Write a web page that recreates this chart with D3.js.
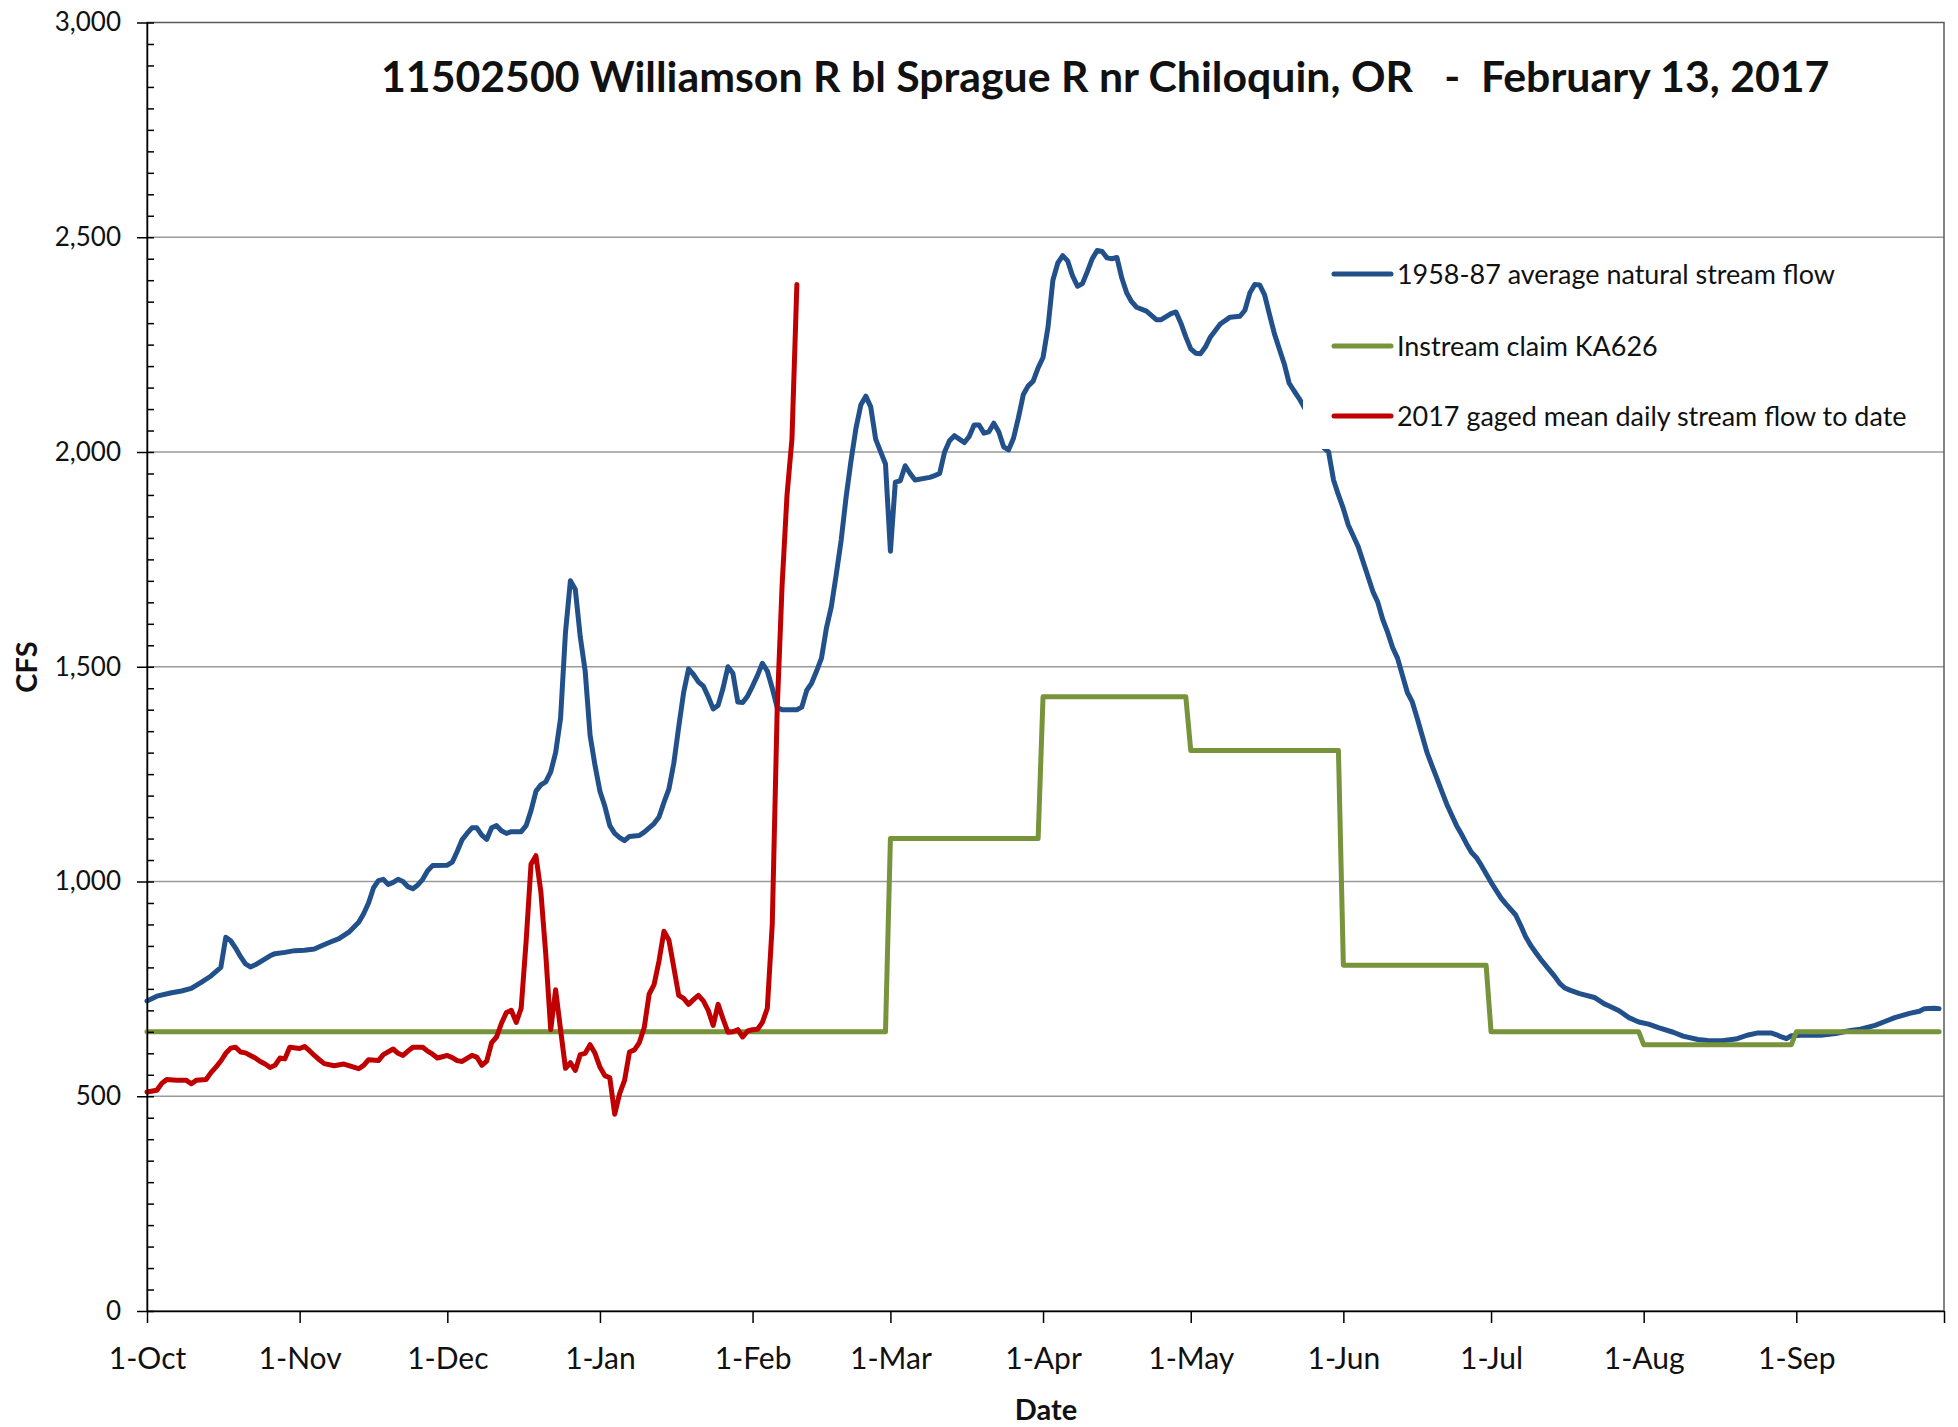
<!DOCTYPE html>
<html>
<head>
<meta charset="utf-8">
<script src="https://cdn.jsdelivr.net/npm/d3@7"></script>
<style>
  body { margin: 0; background: #fff; }
  text { font-family: Lato, "Open Sans", sans-serif; fill: #111; }
</style>
</head>
<body>
<svg id="canvas" width="1958" height="1427"></svg>
<script>
// ---- data ----
let titleText = "11502500 Williamson R bl Sprague R nr Chiloquin, OR   -  February 13, 2017"
let seriesNames = ["1958-87 average natural stream flow", "Instream claim KA626", "2017 gaged mean daily stream flow to date"]
let yTicks = [0, 500, 1000, 1500, 2000, 2500, 3000]

// day number counted from 1-Oct-2016
let avgDay = [0,2,5,7,9,11,13,15,16,17,18,19,20,21,22,23,24,25,26,28,30,32,34,35,37,39,41,43,44,45,46,47,48,49,50,51,52,53,54,55,56,57,58,61,62,63,64,65,66,67,68,69,70,71,72,73,74,76,77,78,79,80,81,82,83,84,85,86,87,88,89,90,91,92,93,94,95,96,97,98,100,101,102,103,104,105,106,107,108,109,110,111,112,113,114,115,116,117,118,119,120,121,122,123,124,125,126,127,128,129,132,133,134,135,136,137,138,139,140,141,142,143,144,145,146,147,148,149,150,151,152,153,154,155,156,159,160,161,162,163,164,165,166,167,168,169,170,171,172,173,174,175,176,177,178,179,180,181,182,183,184,185,186,187,188,189,190,191,192,193,194,195,196,197,198,199,200,201,203,205,206,207,208,209,210,211,212,213,214,215,216,218,220,222,223,224,225,226,227,228,229,230,231,232,233,234,236,238,239,240,241,242,243,244,245,246,247,248,249,250,251,252,253,254,255,256,257,258,259,260,261,262,263,264,265,266,267,268,269,270,271,272,273,274,275,276,277,278,279,280,281,282,283,284,285,286,287,288,289,291,294,296,297,299,301,303,305,307,310,312,315,317,320,323,325,327,330,331,332,333,334,336,340,343,346,348,351,353,355,358,360,361,363,364]
let avgCfs = [722,733,741,745,751,765,780,800,870,862,845,825,808,801,806,813,820,827,832,835,839,840,843,848,858,867,882,905,925,950,985,1002,1005,993,998,1005,1000,988,983,992,1005,1025,1037,1038,1045,1070,1097,1112,1125,1125,1108,1098,1125,1130,1118,1112,1116,1116,1130,1165,1210,1225,1232,1255,1300,1380,1580,1700,1680,1570,1490,1340,1270,1210,1175,1130,1112,1102,1095,1105,1107,1115,1125,1135,1150,1184,1215,1275,1360,1440,1495,1482,1465,1455,1430,1402,1410,1450,1500,1485,1418,1417,1432,1455,1480,1508,1490,1450,1405,1400,1400,1406,1445,1462,1490,1520,1590,1640,1715,1795,1895,1980,2055,2110,2130,2105,2030,2001,1972,1769,1930,1933,1968,1950,1935,1941,1945,1950,2000,2026,2038,2030,2022,2036,2063,2063,2044,2047,2067,2047,2012,2005,2032,2080,2134,2154,2165,2196,2220,2290,2400,2440,2457,2445,2410,2386,2392,2420,2450,2469,2467,2452,2450,2453,2405,2370,2350,2337,2328,2308,2308,2315,2322,2326,2300,2268,2240,2230,2229,2245,2268,2298,2314,2316,2330,2370,2390,2389,2366,2320,2275,2240,2205,2160,2142,2125,2085,2035,2010,2000,1935,1900,1868,1830,1805,1780,1745,1710,1675,1650,1610,1580,1545,1520,1480,1440,1418,1380,1340,1300,1270,1240,1210,1180,1155,1130,1110,1088,1068,1056,1038,1018,998,980,962,948,935,922,898,872,852,836,820,806,792,778,762,752,747,739,730,715,710,699,683,673,668,660,649,640,632,630,629,634,642,647,647,643,638,634,641,642,642,646,653,656,665,674,683,693,698,704,705,704]

let gagedDay = [0,2,3,4,6,8,9,10,12,13,14,15,16,17,18,19,20,21,22,23,24,25,26,27,28,29,31,32,33,34,35,36,38,40,42,43,44,45,47,48,50,51,52,53,54,56,57,58,59,60,61,62,63,64,65,66,67,68,69,70,71,72,73,74,75,76,77,78,79,80,81,82,83,84,85,86,87,88,89,90,91,92,93,94,95,96,97,98,99,100,101,102,103,104,105,106,107,108,109,110,111,112,113,114,115,116,117,118,119,120,121,122,123,124,125,126,127,128,129,130,131,132]
let gagedCfs = [510,514,530,539,537,537,529,537,539,555,568,582,600,612,614,603,601,595,589,581,575,567,572,589,587,614,611,616,606,595,585,576,571,575,568,564,572,585,583,597,610,600,595,605,614,614,605,598,589,592,595,590,583,581,588,595,591,572,582,625,638,670,695,700,672,705,860,1040,1060,976,830,655,748,655,565,578,560,597,600,620,600,568,548,543,458,506,537,603,608,625,660,738,760,815,884,864,800,735,728,714,725,735,722,700,665,714,680,649,650,655,638,652,655,656,672,705,900,1400,1690,1900,2030,2390]

let claimMonths = ["2016-10","2016-11","2016-12","2017-01","2017-02","2017-03","2017-04","2017-05","2017-06","2017-07","2017-08","2017-09"]
let claimCfs = [650,650,650,650,650,1100,1430,1305,805,650,620,650]

// ---- layout ----
let canvas = d3.select("#canvas")
let plotLeft = 147, plotRight = 1944, plotTop = 22.5, plotBottom = 1311
let startDate = new Date(2016, 9, 1)
let endDate = new Date(2017, 9, 1)

let x = d3.scaleTime().domain([startDate, endDate]).range([plotLeft, plotRight])
let y = d3.scaleLinear().domain([0, 3000]).range([plotBottom, plotTop])

let dayToDate = (d) => d3.timeDay.offset(startDate, d)

let avgData = avgDay.map((d, i) => [dayToDate(d), avgCfs[i]])
let gagedData = gagedDay.map((d, i) => [dayToDate(d), gagedCfs[i]])
let claimData = []
claimMonths.forEach((m, i) => {
    let first = d3.timeParse("%Y-%m")(m)
    let last = d3.timeDay.offset(d3.timeMonth.offset(first, 1), -1)
    claimData.push([first, claimCfs[i]])
    claimData.push([last, claimCfs[i]])
})

let colors = ["#22508A", "#77933C", "#C00000"]

// gridlines
canvas.append("g")
    .selectAll("line")
    .data(yTicks.filter((d) => d > 0 && d < 3000))
    .enter()
    .append("line")
    .attr("x1", plotLeft)
    .attr("x2", plotRight)
    .attr("y1", (d) => y(d))
    .attr("y2", (d) => y(d))
    .attr("stroke", "#9a9a9a")
    .attr("stroke-width", 1.5)

// plot border (top, right)
canvas.append("rect")
    .attr("x", plotLeft)
    .attr("y", plotTop)
    .attr("width", plotRight - plotLeft)
    .attr("height", plotBottom - plotTop)
    .attr("fill", "none")
    .attr("stroke", "#5a5a5a")
    .attr("stroke-width", 1.5)

// series
let line = d3.line().x((d) => x(d[0])).y((d) => y(d[1]))
let seriesData = [avgData, claimData, gagedData]
canvas.append("g")
    .selectAll("path")
    .data(seriesData)
    .enter()
    .append("path")
    .attr("d", line)
    .attr("fill", "none")
    .attr("stroke", (d, i) => colors[i])
    .attr("stroke-width", 5)
    .attr("stroke-linejoin", "round")
    .attr("stroke-linecap", "round")

// y axis
let yAxis = d3.axisLeft(y)
    .tickValues(yTicks)
    .tickSize(10)
    .tickPadding(16)
    .tickSizeOuter(0)
    .tickFormat(d3.format(","))
let yg = canvas.append("g")
    .attr("transform", `translate(${plotLeft},0)`)
    .call(yAxis)
yg.selectAll("text").attr("font-size", 26).attr("font-family", "Lato").attr("fill", "#1a1a1a")

let yMinor = d3.axisRight(y)
    .tickValues(d3.range(0, 3001, 50))
    .tickSize(7)
    .tickSizeOuter(0)
    .tickFormat("")
canvas.append("g")
    .attr("transform", `translate(${plotLeft},0)`)
    .call(yMinor)
    .select(".domain").remove()

// x axis
let months = d3.timeMonth.range(startDate, d3.timeDay.offset(endDate, 1))
let monthFormat = d3.timeFormat("%-d-%b")
let xAxis = d3.axisBottom(x)
    .tickValues(months)
    .tickSize(12)
    .tickSizeOuter(0)
    .tickFormat((d, i) => i < 12 ? monthFormat(d) : "")
let xg = canvas.append("g")
    .attr("transform", `translate(0,${plotBottom})`)
    .call(xAxis)
xg.selectAll("text")
    .attr("font-size", 30)
    .attr("font-family", "Lato")
    .attr("fill", "#1a1a1a")
    .attr("y", 58)
    .attr("dy", null)

canvas.selectAll(".domain").attr("stroke", "#000").attr("stroke-width", 1.5)
canvas.selectAll(".tick line").attr("stroke", "#000").attr("stroke-width", 1.5)

// axis titles
canvas.append("text")
    .attr("transform", "translate(37,667) rotate(-90)")
    .attr("text-anchor", "middle")
    .attr("font-size", 29)
    .attr("font-weight", "bold")
    .text("CFS")

canvas.append("text")
    .attr("x", 1046)
    .attr("y", 1420)
    .attr("text-anchor", "middle")
    .attr("font-size", 29)
    .attr("font-weight", "bold")
    .text("Date")

// chart title
let fitWidth = (sel, w) => {
    let fs = parseFloat(sel.attr("font-size"))
    let len = sel.node().getComputedTextLength()
    sel.attr("font-size", fs * w / len)
    return fs * w / len
}
let title = canvas.append("text")
    .attr("x", 381)
    .attr("y", 92)
    .attr("font-size", 40)
    .attr("font-weight", "bold")
    .style("white-space", "pre")
    .text(titleText)
fitWidth(title, 1449)

// legend
let legend = canvas.append("g").attr("id", "legend")
legend.append("rect")
    .attr("x", 1303)
    .attr("y", 248)
    .attr("width", plotRight - 1303 - 1)
    .attr("height", 201)
    .attr("fill", "#fff")

let rowY = [274, 346, 416]
legend.selectAll("line")
    .data(seriesNames)
    .enter()
    .append("line")
    .attr("x1", 1334)
    .attr("x2", 1391)
    .attr("y1", (d, i) => rowY[i])
    .attr("y2", (d, i) => rowY[i])
    .attr("stroke", (d, i) => colors[i])
    .attr("stroke-width", 5)
    .attr("stroke-linecap", "round")

let labels = legend.selectAll("text")
    .data(seriesNames)
    .enter()
    .append("text")
    .attr("x", 1397)
    .attr("y", (d, i) => rowY[i])
    .attr("dy", "0.36em")
    .attr("font-size", 24)
    .attr("fill", "#1a1a1a")
    .text((d) => d)
let legendSize = fitWidth(d3.select(labels.nodes()[0]), 438)
labels.attr("font-size", legendSize)
</script>
</body>
</html>
